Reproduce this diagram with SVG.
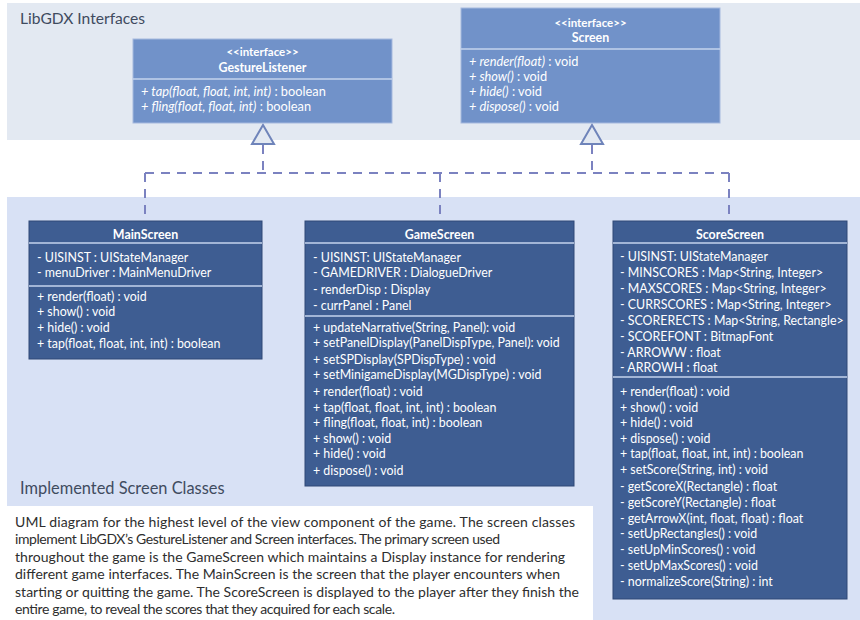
<svg xmlns="http://www.w3.org/2000/svg" width="860" height="620" viewBox="0 0 860 620">
  <style>
    text { font-family: Lato, "Liberation Sans", sans-serif; }
    .title { font-size: 15.6px; fill: #3f4b5f; }
    .cap { font-size: 14px; fill: #2e2e2e; }
    .iface { fill: #7192c9; stroke: #a6b9de; stroke-width: 1; }
    .cls { fill: #3e5d92; stroke: #2f4876; stroke-width: 1; }
    .div { stroke: #c5d3ec; stroke-width: 1.5; }
    .t { font-size: 12.4px; fill: #ffffff; }
    .it { font-size: 12.8px; fill: #ffffff; }
    .h { font-size: 12.4px; font-weight: bold; fill: #ffffff; text-anchor: middle; }
    .s { font-size: 11.5px; font-weight: bold; fill: #ffffff; text-anchor: middle; }
    .dash { fill: none; stroke: #7b82c0; stroke-width: 2; stroke-dasharray: 9 7; }
    .tri { fill: #e3e9f2; stroke: #6f84ba; stroke-width: 2; stroke-linejoin: miter; }
  </style>

  <!-- background regions -->
  <rect x="0" y="0" width="860" height="620" fill="#ffffff"/>
  <rect x="7" y="3" width="853" height="137" fill="#e3e9f2"/>
  <path d="M7,197 H860 V620 H593 V506 H7 Z" fill="#d8e1f5"/>
  <text class="title" x="20" y="24">LibGDX Interfaces</text>
  <text class="title" x="20" y="494" style="font-size:16.4px">Implemented Screen Classes</text>

  <!-- realization connectors -->
  <g id="connectors">
    <path class="dash" d="M263,145 V173 M145,173 H729 M145,173 V221 M440,173 V221 M729,173 V221 M592,145 V173"/>
    <polygon class="tri" points="263,125 252,144 274,144"/>
    <polygon class="tri" points="592,125 581,144 603,144"/>
  </g>

  <g id="GestureListener">
    <rect class="iface" x="133" y="39" width="259" height="84"/>
    <line class="div" x1="133" y1="79" x2="392" y2="79"/>
    <text class="s" x="262.5" y="56">&lt;&lt;interface&gt;&gt;</text>
    <text class="h" x="262.5" y="71.5">GestureListener</text>
    <text class="it" x="141" y="96"><tspan font-style="italic">+ tap(float, float, int, int)</tspan> : boolean</text>
    <text class="it" x="141" y="111"><tspan font-style="italic">+ fling(float, float, int)</tspan> : boolean</text>
  </g>

  <g id="Screen">
    <rect class="iface" x="461" y="8" width="259" height="115"/>
    <line class="div" x1="461" y1="49" x2="720" y2="49"/>
    <text class="s" x="590.5" y="26.5">&lt;&lt;interface&gt;&gt;</text>
    <text class="h" x="590.5" y="42">Screen</text>
    <text class="it" x="469" y="66"><tspan font-style="italic">+ render(float)</tspan> : void</text>
    <text class="it" x="469" y="81"><tspan font-style="italic">+ show()</tspan> : void</text>
    <text class="it" x="469" y="96"><tspan font-style="italic">+ hide()</tspan> : void</text>
    <text class="it" x="469" y="111"><tspan font-style="italic">+ dispose()</tspan> : void</text>
  </g>

  <g id="MainScreen">
    <rect class="cls" x="29" y="221" width="233" height="138"/>
    <line class="div" x1="29" y1="243" x2="262" y2="243"/>
    <line class="div" x1="29" y1="286" x2="262" y2="286"/>
    <text class="h" x="145.5" y="239">MainScreen</text>
    <text class="t" x="37" y="262">- UISINST : UIStateManager</text>
    <text class="t" x="37" y="277">- menuDriver : MainMenuDriver</text>
    <text class="t" x="37" y="301">+ render(float) : void</text>
    <text class="t" x="37" y="316">+ show() : void</text>
    <text class="t" x="37" y="332">+ hide() : void</text>
    <text class="t" x="37" y="348">+ tap(float, float, int, int) : boolean</text>
  </g>

  <g id="GameScreen">
    <rect class="cls" x="305" y="221" width="269" height="265"/>
    <line class="div" x1="305" y1="243" x2="574" y2="243"/>
    <line class="div" x1="305" y1="316" x2="574" y2="316"/>
    <text class="h" x="439.5" y="239">GameScreen</text>
    <text class="t" x="313" y="262">- UISINST: UIStateManager</text>
    <text class="t" x="313" y="277">- GAMEDRIVER : DialogueDriver</text>
    <text class="t" x="313" y="294">- renderDisp : Display</text>
    <text class="t" x="313" y="310">- currPanel : Panel</text>
    <text class="t" x="313" y="332">+ updateNarrative(String, Panel): void</text>
    <text class="t" x="313" y="347">+ setPanelDisplay(PanelDispType, Panel): void</text>
    <text class="t" x="313" y="364">+ setSPDisplay(SPDispType) : void</text>
    <text class="t" x="313" y="379">+ setMinigameDisplay(MGDispType) : void</text>
    <text class="t" x="313" y="396">+ render(float) : void</text>
    <text class="t" x="313" y="412">+ tap(float, float, int, int) : boolean</text>
    <text class="t" x="313" y="427">+ fling(float, float, int) : boolean</text>
    <text class="t" x="313" y="443">+ show() : void</text>
    <text class="t" x="313" y="458">+ hide() : void</text>
    <text class="t" x="313" y="475">+ dispose() : void</text>
  </g>

  <g id="ScoreScreen">
    <rect class="cls" x="613" y="221" width="234" height="378"/>
    <line class="div" x1="613" y1="243" x2="847" y2="243"/>
    <line class="div" x1="613" y1="377" x2="847" y2="377"/>
    <text class="h" x="730" y="239">ScoreScreen</text>
    <text class="t" x="620" y="261">- UISINST: UIStateManager</text>
    <text class="t" x="620" y="277">- MINSCORES : Map&lt;String, Integer&gt;</text>
    <text class="t" x="620" y="293">- MAXSCORES : Map&lt;String, Integer&gt;</text>
    <text class="t" x="620" y="309">- CURRSCORES : Map&lt;String, Integer&gt;</text>
    <text class="t" x="620" y="325">- SCORERECTS : Map&lt;String, Rectangle&gt;</text>
    <text class="t" x="620" y="341">- SCOREFONT : BitmapFont</text>
    <text class="t" x="620" y="357">- ARROWW : float</text>
    <text class="t" x="620" y="372">- ARROWH : float</text>
    <text class="t" x="620" y="396">+ render(float) : void</text>
    <text class="t" x="620" y="412">+ show() : void</text>
    <text class="t" x="620" y="427">+ hide() : void</text>
    <text class="t" x="620" y="443">+ dispose() : void</text>
    <text class="t" x="620" y="458">+ tap(float, float, int, int) : boolean</text>
    <text class="t" x="620" y="474">+ setScore(String, int) : void</text>
    <text class="t" x="620" y="491">- getScoreX(Rectangle) : float</text>
    <text class="t" x="620" y="507">- getScoreY(Rectangle) : float</text>
    <text class="t" x="620" y="523">- getArrowX(int, float, float) : float</text>
    <text class="t" x="620" y="538">- setUpRectangles() : void</text>
    <text class="t" x="620" y="554">- setUpMinScores() : void</text>
    <text class="t" x="620" y="570">- setUpMaxScores() : void</text>
    <text class="t" x="620" y="586">- normalizeScore(String) : int</text>
  </g>

  <!-- caption -->
  <g id="caption">
    <text class="cap" x="15" y="527" textLength="560">UML diagram for the highest level of the view component of the game. The screen classes</text>
    <text class="cap" x="15" y="544" textLength="485">implement LibGDX’s GestureListener and Screen interfaces. The primary screen used</text>
    <text class="cap" x="15" y="561.5" textLength="550">throughout the game is the GameScreen which maintains a Display instance for rendering</text>
    <text class="cap" x="15" y="579" textLength="545">different game interfaces. The MainScreen is the screen that the player encounters when</text>
    <text class="cap" x="15" y="596.5" textLength="564">starting or quitting the game. The ScoreScreen is displayed to the player after they finish the</text>
    <text class="cap" x="15" y="614" textLength="380">entire game, to reveal the scores that they acquired for each scale.</text>
  </g>
</svg>
